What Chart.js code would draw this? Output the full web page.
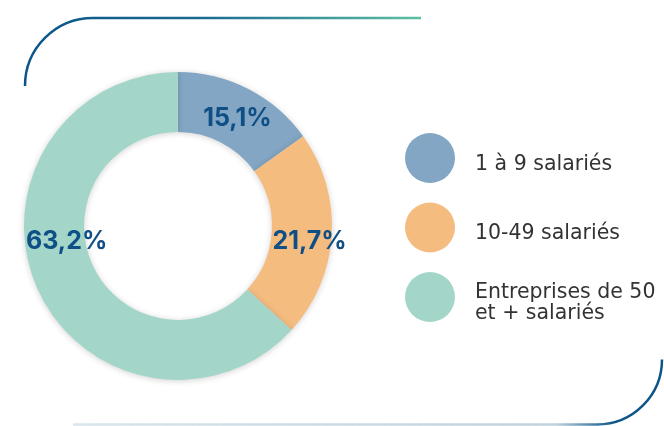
<!DOCTYPE html>
<html>
<head>
<meta charset="utf-8">
<script src="https://cdn.jsdelivr.net/npm/chart.js@4/dist/chart.umd.min.js"></script>
<style>
  html, body { margin: 0; padding: 0; background: #ffffff; }
  #wrap { position: relative; width: 664px; height: 426px; }
  canvas { display: block; }
</style>
</head>
<body>
<div id="wrap"><canvas id="c" width="664" height="426"></canvas></div>
<script>
// ---- data ----
const categories = ['1 à 9 salariés', '10-49 salariés', ['Entreprises de 50', 'et + salariés']];
const shares = [15.1, 21.7, 63.2];
const sliceColors = ['#82a6c3', '#f5bc80', '#a3d6c9'];

const fmt = v => v.toFixed(1).replace('.', ',') + '%';

// decorative frame
const framePlugin = {
  id: 'frame',
  beforeDraw(chart) {
    const ctx = chart.ctx;
    ctx.save();
    ctx.lineWidth = 2.5;
    ctx.lineCap = 'butt';
    let g = ctx.createLinearGradient(25, 0, 421, 0);
    g.addColorStop(0, '#0b5589');
    g.addColorStop(0.45, '#1a6b92');
    g.addColorStop(1, '#5cc0a2');
    ctx.strokeStyle = g;
    ctx.beginPath();
    ctx.moveTo(25, 86);
    ctx.arc(93, 86, 68, Math.PI, Math.PI * 1.5);
    ctx.lineTo(421, 18);
    ctx.stroke();
    g = ctx.createLinearGradient(73, 0, 662, 0);
    g.addColorStop(0, 'rgba(200,218,226,0.7)');
    g.addColorStop(0.82, 'rgba(190,210,222,1)');
    g.addColorStop(0.92, '#0b5589');
    g.addColorStop(1, '#0b5589');
    ctx.strokeStyle = g;
    ctx.beginPath();
    ctx.moveTo(73, 424.5);
    ctx.lineTo(597, 424.5);
    ctx.arc(597, 359.5, 65, Math.PI * 0.5, 0, true);
    ctx.stroke();
    ctx.restore();
  }
};

// soft shadow under the ring
const shadowPlugin = {
  id: 'ringShadow',
  beforeDatasetsDraw(chart) {
    const ctx = chart.ctx;
    ctx.save();
    ctx.shadowColor = 'rgba(0,0,0,0.18)';
    ctx.shadowBlur = 6;
    ctx.shadowOffsetX = 0;
    ctx.shadowOffsetY = 1;
  },
  afterDatasetsDraw(chart) {
    chart.ctx.restore();
  }
};

// value labels
const valueLabelPlugin = {
  id: 'valueLabels',
  afterDatasetsDraw(chart, args, opts) {
    const ctx = chart.ctx;
    const meta = chart.getDatasetMeta(0);
    const ds = chart.data.datasets[0];
    ctx.save();
    ctx.fillStyle = opts.color;
    ctx.font = opts.font;
    ctx.textAlign = 'center';
    ctx.textBaseline = 'middle';
    meta.data.forEach((arc, i) => {
      const p = opts.placement[i];
      const a = (p.angle - 90) * Math.PI / 180;
      const r = arc.outerRadius * p.r;
      ctx.fillText(fmt(ds.data[i]), arc.x + Math.cos(a) * r, arc.y + Math.sin(a) * r);
    });
    ctx.restore();
  }
};

// legend
const legendPlugin = {
  id: 'sideLegend',
  afterDraw(chart, args, opts) {
    const ctx = chart.ctx;
    const ds = chart.data.datasets[0];
    ctx.save();
    chart.data.labels.forEach((lab, i) => {
      const cy = opts.top + i * opts.step;
      ctx.fillStyle = ds.backgroundColor[i];
      ctx.beginPath();
      ctx.arc(opts.x, cy, opts.radius, 0, Math.PI * 2);
      ctx.fill();
      ctx.fillStyle = opts.color;
      ctx.font = opts.font;
      ctx.textAlign = 'left';
      ctx.textBaseline = 'alphabetic';
      const lines = Array.isArray(lab) ? lab : [lab];
      const y0 = cy + opts.baselineShift - (lines.length - 1) * opts.lineHeight / 2;
      lines.forEach((t, k) => ctx.fillText(t, opts.textX, y0 + k * opts.lineHeight));
    });
    ctx.restore();
  }
};

new Chart(document.getElementById('c'), {
  type: 'doughnut',
  data: {
    labels: categories,
    datasets: [{
      data: shares,
      backgroundColor: sliceColors,
      borderWidth: 0
    }]
  },
  options: {
    responsive: false,
    animation: false,
    cutout: '61%',
    layout: { padding: { left: 24, right: 332, top: 72, bottom: 46 } },
    plugins: {
      legend: { display: false },
      tooltip: { enabled: false },
      valueLabels: {
        color: '#0f4f86',
        font: 'bold 25px Inter',
        placement: [
          { angle: 28.8, r: 0.80 },
          { angle: 96.9, r: 0.86 },
          { angle: 262, r: 0.73 }
        ]
      },
      sideLegend: {
        x: 430, top: 158, step: 69.5, radius: 25,
        textX: 475, lineHeight: 21, baselineShift: 11.5,
        color: '#333333',
        font: '20.5px "DejaVu Sans"'
      }
    }
  },
  plugins: [framePlugin, shadowPlugin, valueLabelPlugin, legendPlugin]
});
</script>
</body>
</html>
